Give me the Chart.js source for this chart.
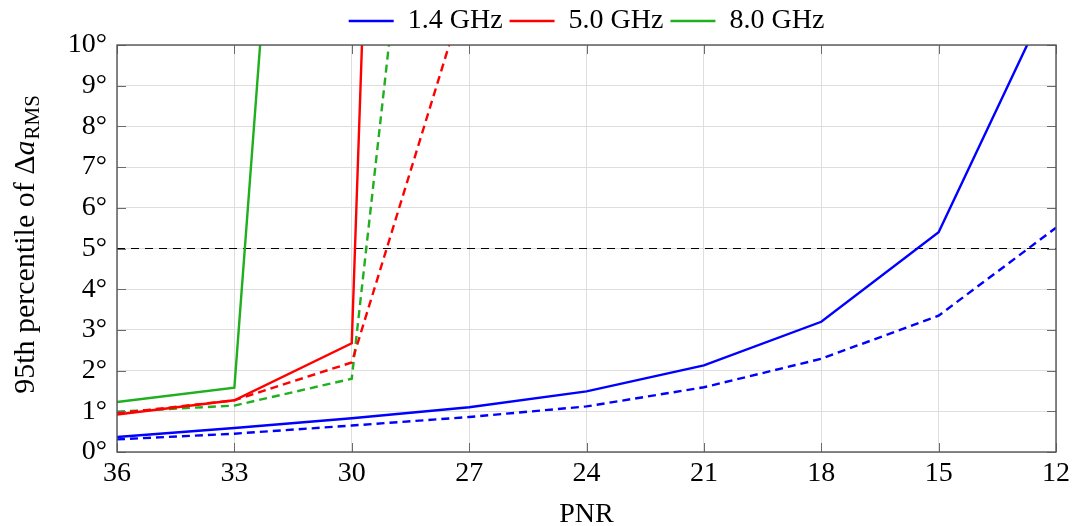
<!DOCTYPE html>
<html>
<head>
<meta charset="utf-8">
<script src="https://cdn.jsdelivr.net/npm/chart.js@4"></script>
<style>
    html, body { margin: 0; padding: 0; background: #fff; }
    #wrap { width: 1076px; height: 526px; }
</style>
</head>
<body>
<div id="wrap"><canvas id="pnrChart"></canvas></div>
<script>
// PNR values on the x axis (axis runs from 36 down to 12)
const pnr = [36, 33, 30, 27, 24, 21, 18, 15, 12];

// 95th percentile of delta a_RMS, degrees (solid = one case, dashed = the other)
const blueSolid  = [0.37, 0.59, 0.83, 1.10, 1.49, 2.13, 3.20, 5.40, 11.5];
const blueDashed = [0.31, 0.45, 0.65, 0.86, 1.12, 1.59, 2.29, 3.35, 5.51];
const redSolid   = [0.92, 1.27, 2.67, 87];
const redDashed  = [0.95, 1.27, 2.20, 11.6];
const greenSolid = [1.23, 1.58, 40];
const greenDashed = [0.99, 1.14, 1.80, 27.7];

const threshold = 5;
const yTicks = [0, 1, 2, 3, 4, 5, 6, 7, 8, 9, 10];

const serif = "'Liberation Serif', 'Times New Roman', serif";
const blue = "#0000ff";
const red = "#ff0000";
const green = "#1faf1f";

function points(values) {
    return values.map((v, i) => ({ x: pnr[i], y: v }));
}

function series(label, values, color, dashed) {
    return {
        label,
        data: points(values),
        borderColor: color,
        backgroundColor: color,
        borderWidth: 2.4,
        borderDash: dashed ? [8, 5] : [],
        pointRadius: 0,
        tension: 0,
        clip: 0,
        inLegend: !dashed,
    };
}

// frame, inward tick marks and the y title with subscript
const framePlugin = {
    id: "frame",
    beforeDraw(chart) {
        // centre the legend over the plot area, not the whole canvas
        const a = chart.chartArea;
        chart.legend.left = a.left;
        chart.legend.right = a.right;
    },
    afterDraw(chart) {
        const { ctx, chartArea: a, scales } = chart;
        ctx.save();
        ctx.strokeStyle = "#6b6b6b";
        ctx.lineWidth = 1;
        const len = 9;
        ctx.beginPath();
        pnr.forEach(v => {
            const x = Math.round(scales.x.getPixelForValue(v)) + 0.5;
            ctx.moveTo(x, a.bottom); ctx.lineTo(x, a.bottom - len);
            ctx.moveTo(x, a.top); ctx.lineTo(x, a.top + len);
        });
        yTicks.forEach(v => {
            const y = Math.round(scales.y.getPixelForValue(v)) + 0.5;
            ctx.moveTo(a.left, y); ctx.lineTo(a.left + len, y);
            ctx.moveTo(a.right, y); ctx.lineTo(a.right - len, y);
        });
        ctx.stroke();
        ctx.strokeStyle = "#555";
        ctx.lineWidth = 1.4;
        ctx.strokeRect(a.left, a.top, a.right - a.left, a.bottom - a.top);

        // y axis title: 95th percentile of Δa_RMS
        ctx.translate(25, (a.top + a.bottom) / 2 - 4);
        ctx.rotate(-Math.PI / 2);
        ctx.fillStyle = "#000";
        ctx.textBaseline = "alphabetic";
        const main = "95th percentile of Δ";
        ctx.font = "30px " + serif;
        const w1 = ctx.measureText(main).width;
        ctx.font = "italic 30px " + serif;
        const w2 = ctx.measureText("a").width;
        ctx.font = "21px " + serif;
        const w3 = ctx.measureText("RMS").width;
        let x0 = -(w1 + w2 + w3 + 1) / 2;
        ctx.font = "30px " + serif;
        ctx.fillText(main, x0, 9);
        x0 += w1;
        ctx.font = "italic 30px " + serif;
        ctx.fillText("a", x0, 9);
        x0 += w2 + 1;
        ctx.font = "21px " + serif;
        ctx.fillText("RMS", x0, 14);
        ctx.restore();
    }
};

const datasets = [
    series("1.4 GHz", blueSolid, blue, false),
    series("5.0 GHz", redSolid, red, false),
    series("8.0 GHz", greenSolid, green, false),
    series("1.4 GHz dashed", blueDashed, blue, true),
    series("5.0 GHz dashed", redDashed, red, true),
    series("8.0 GHz dashed", greenDashed, green, true),
    {
        label: "threshold",
        data: [{ x: pnr[0], y: threshold }, { x: pnr[pnr.length - 1], y: threshold }],
        borderColor: "#000",
        borderWidth: 1.2,
        borderDash: [8, 6],
        pointRadius: 0,
        clip: 0,
        inLegend: false,
    },
];

new Chart(document.getElementById("pnrChart"), {
    type: "line",
    data: { datasets },
    options: {
        responsive: true,
        maintainAspectRatio: false,
        animation: false,
        layout: { padding: { left: 0, right: 20, top: 0, bottom: 0 } },
        plugins: {
            legend: {
                position: "top",
                labels: {
                    usePointStyle: true,
                    pointStyle: "line",
                    pointStyleWidth: 45,
                    color: "#000",
                    padding: 7,
                    font: { family: serif, size: 28 },
                    filter: (item, data) => data.datasets[item.datasetIndex].inLegend,
                },
            },
            tooltip: { enabled: false },
        },
        scales: {
            x: {
                type: "linear",
                reverse: true,
                min: 12,
                max: 36,
                afterBuildTicks: scale => { scale.ticks = pnr.map(v => ({ value: v })); },
                afterFit: scale => { scale.height = 74; },
                grid: { color: "#dedede", drawTicks: false },
                border: { display: false },
                ticks: { color: "#000", padding: 5, font: { family: serif, size: 28 } },
                title: {
                    display: true,
                    text: "PNR",
                    color: "#000",
                    padding: { top: 0, bottom: -5 },
                    font: { family: serif, size: 28 },
                },
            },
            y: {
                min: 0,
                max: 10,
                afterBuildTicks: scale => { scale.ticks = yTicks.map(v => ({ value: v })); },
                afterFit: scale => { scale.width = 117; },
                grid: { color: "#dedede", drawTicks: false },
                border: { display: false },
                ticks: {
                    color: "#000",
                    padding: 10,
                    font: { family: serif, size: 28 },
                    callback: v => v + "°",
                },
            },
        },
    },
    plugins: [framePlugin],
});
</script>
</body>
</html>
